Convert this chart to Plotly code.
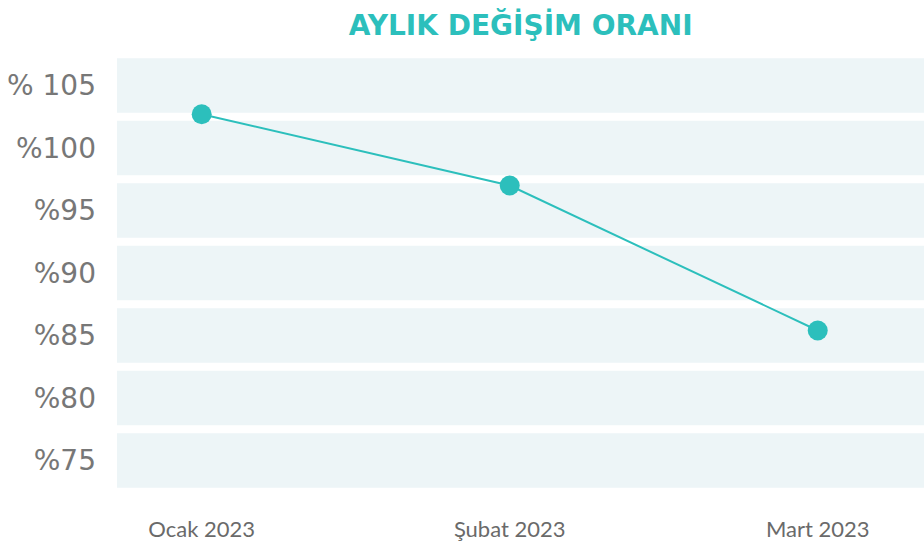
import plotly.graph_objects as go

months = ["Ocak 2023", "Şubat 2023", "Mart 2023"]
rates = [102.7, 97.0, 85.4]
y_ticks = [105, 100, 95, 90, 85, 80, 75]
y_tick_labels = ["% 105", "%100", "%95", "%90", "%85", "%80", "%75"]

TEAL = "#2cbfbc"
BAND = "#edf5f7"

fig = go.Figure()
fig.add_trace(go.Scatter(
    x=months, y=rates, mode="lines+markers",
    line=dict(color=TEAL, width=2),
    marker=dict(color=TEAL, size=20),
    hoverinfo="skip",
))

half = 2.18
for t in y_ticks:
    fig.add_shape(type="rect", xref="paper", yref="y", x0=0, x1=1,
                  y0=t - half, y1=t + half, fillcolor=BAND, line=dict(width=0),
                  layer="below")

fig.update_layout(
    width=924, height=544,
    margin=dict(l=117, r=0, t=58, b=56),
    paper_bgcolor="white", plot_bgcolor="white",
    showlegend=False,
    title=dict(text="<b>AYLIK DEĞİŞİM ORANI</b>", x=0.5635, xanchor="center",
               y=1 - 25 / 544, yanchor="middle",
               font=dict(family="DejaVu Sans", size=28, color=TEAL)),
    xaxis=dict(type="category", range=[-0.275, 2.345], showgrid=False,
               zeroline=False, showline=False, automargin=False,
               ticks="outside", ticklen=22, tickcolor="rgba(0,0,0,0)",
               tickfont=dict(family="Lato", size=22, color="#6a6a6a")),
    yaxis=dict(range=[72.8, 107.2], tickvals=y_ticks, ticktext=y_tick_labels,
               showgrid=False, zeroline=False, showline=False, automargin=False,
               ticklabelstandoff=20,
               tickfont=dict(family="DejaVu Sans", size=28, color="#777777")),
)

fig.write_html("out.html", config={"displayModeBar": False},
               post_script="document.body.style.margin='0';document.body.style.overflow='hidden';")
